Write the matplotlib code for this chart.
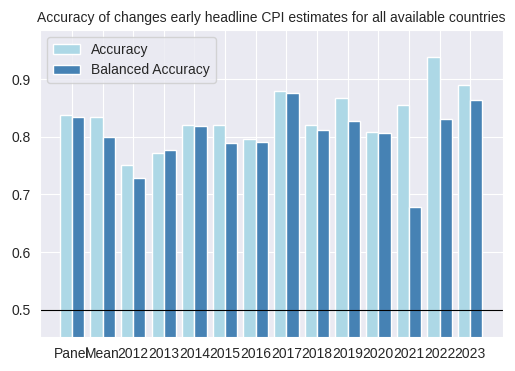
import numpy as np
import matplotlib
matplotlib.use("Agg")
import matplotlib.pyplot as plt
import seaborn as sns

categories = ["Panel", "Mean", "2012", "2013", "2014", "2015", "2016", "2017",
              "2018", "2019", "2020", "2021", "2022", "2023"]
accuracy = [0.837, 0.835, 0.751, 0.772, 0.820, 0.820, 0.796, 0.879,
            0.820, 0.867, 0.808, 0.855, 0.939, 0.890]
balanced_accuracy = [0.834, 0.800, 0.729, 0.777, 0.819, 0.789, 0.791, 0.876,
                     0.812, 0.827, 0.806, 0.678, 0.831, 0.864]

sns.set_style("darkgrid")
plt.rcParams['font.family'] = ['Liberation Sans', 'DejaVu Sans']

fig, ax = plt.subplots(figsize=(5.15, 3.71), dpi=100)
fig.subplots_adjust(left=0.0777, right=0.9767, top=0.9191, bottom=0.0916)

x = np.arange(len(categories))
w = 0.4
ax.bar(x - w / 2, accuracy, w, color="lightblue", edgecolor="white",
       linewidth=1, label="Accuracy")
ax.bar(x + w / 2, balanced_accuracy, w, color="steelblue", edgecolor="white",
       linewidth=1, label="Balanced Accuracy")
ax.axhline(0.5, color="black", linewidth=0.8)

ax.set_xticks(x)
ax.set_xticklabels(categories)
ax.set_yticks([0.5, 0.6, 0.7, 0.8, 0.9])
ax.set_xlim(-1.04, 14.07)
ax.set_ylim(0.453, 0.985)
ax.tick_params(labelsize=10)
ax.set_title("Accuracy of changes early headline CPI estimates for all available countries",
             fontsize=10)
ax.legend(loc="upper left", fontsize=10)

fig.savefig("out.png", dpi=100)
